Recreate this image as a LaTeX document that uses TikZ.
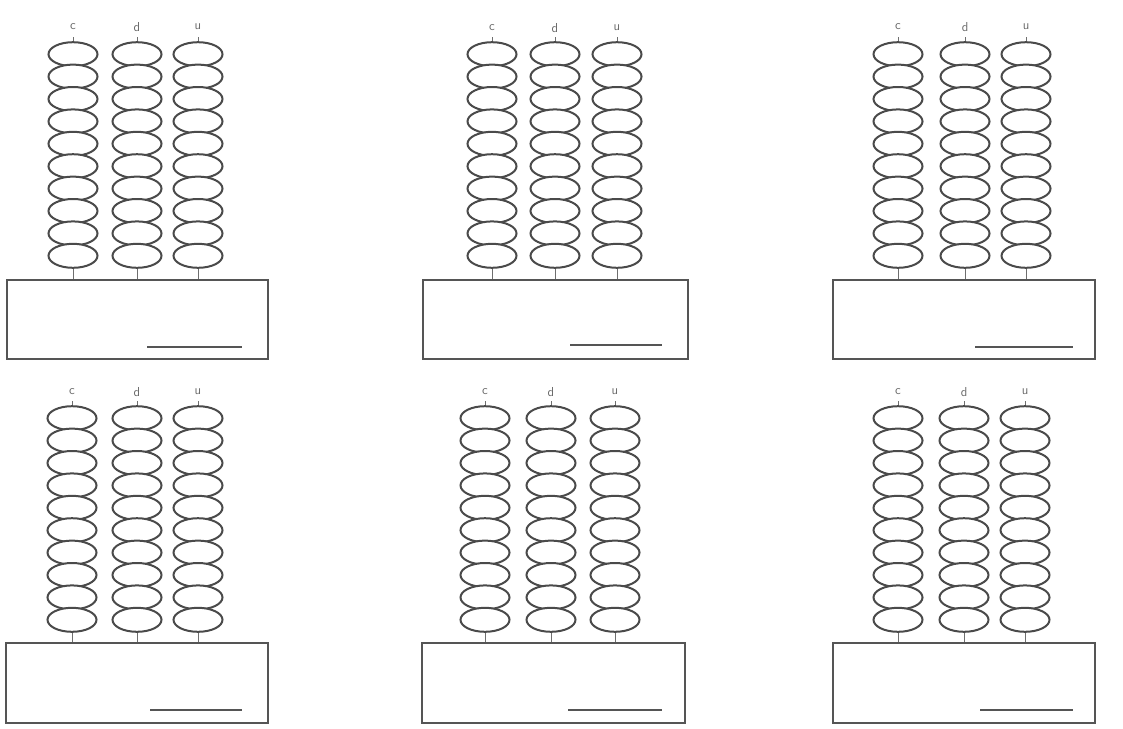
\documentclass[tikz,border=0pt]{standalone}
\usetikzlibrary{shapes.geometric}
\definecolor{beadcol}{HTML}{4A4A4A}
\definecolor{boxcol}{HTML}{555555}
\definecolor{labcol}{HTML}{6A6A6A}
\tikzset{
  bead/.style={ellipse, draw=beadcol, line width=2pt, fill=white, minimum width=49pt, minimum height=24pt, inner sep=0pt},
  answerbox/.style={rectangle, draw=boxcol, line width=2.2pt, fill=none, inner sep=0pt},
  rod/.style={draw=beadcol!80, line width=1pt},
  collabel/.style={text=labcol, font=\fontsize{13}{13}\selectfont\sffamily, inner sep=0pt},
  writeline/.style={draw=boxcol, line width=1.3pt}
}
\begin{document}
\begin{tikzpicture}[x=1pt,y=-1pt]
\useasboundingbox (0,0) rectangle (1123,728);
\fill[white] (0,0) rectangle (1123,728);
\foreach \p/\a/\b/\c/\t/\ly/\bl/\br/\bt/\bb/\ll/\lr/\lyy in {
  A/73/137/198/43/27/7/268/280/359/147/242/347,
  B/492/555/617/43/28/423/688/280/359/570/662/345,
  C/898/965/1026/43/27/833/1095/280/359/975/1073/347,
  D/72/137/198/407/392/6/268/643/723/150/242/710,
  E/485/551/615/407/392/422/685/643/723/568/662/710,
  F/898/964/1025/407/392/833/1095/643/723/980/1073/710}
{
  \node[answerbox, minimum width=\br-\bl, minimum height=\bb-\bt] (box-\p) at ({(\bl+\br)/2},{(\bt+\bb)/2}) {};
  \coordinate (wl-\p) at (\ll,\lyy);
  \coordinate (wr-\p) at (\lr,\lyy);
  \draw[writeline] (wl-\p) -- (wr-\p);
  \foreach \k/\x in {c/\a, d/\b, u/\c} {
    \node[collabel] (lab-\p-\k) at (\x,\ly) {\k};
    \coordinate (rodtop-\p-\k) at (\x,\t-6);
    \draw[rod] (rodtop-\p-\k) -- (rodtop-\p-\k |- box-\p.north);
    \foreach \i in {1,...,10} {
      \node[bead] (bead-\p-\k-\i) at (\x,{\t+11.2+(\i-1)*22.4}) {};
    }
  }
}
\end{tikzpicture}
\end{document}
